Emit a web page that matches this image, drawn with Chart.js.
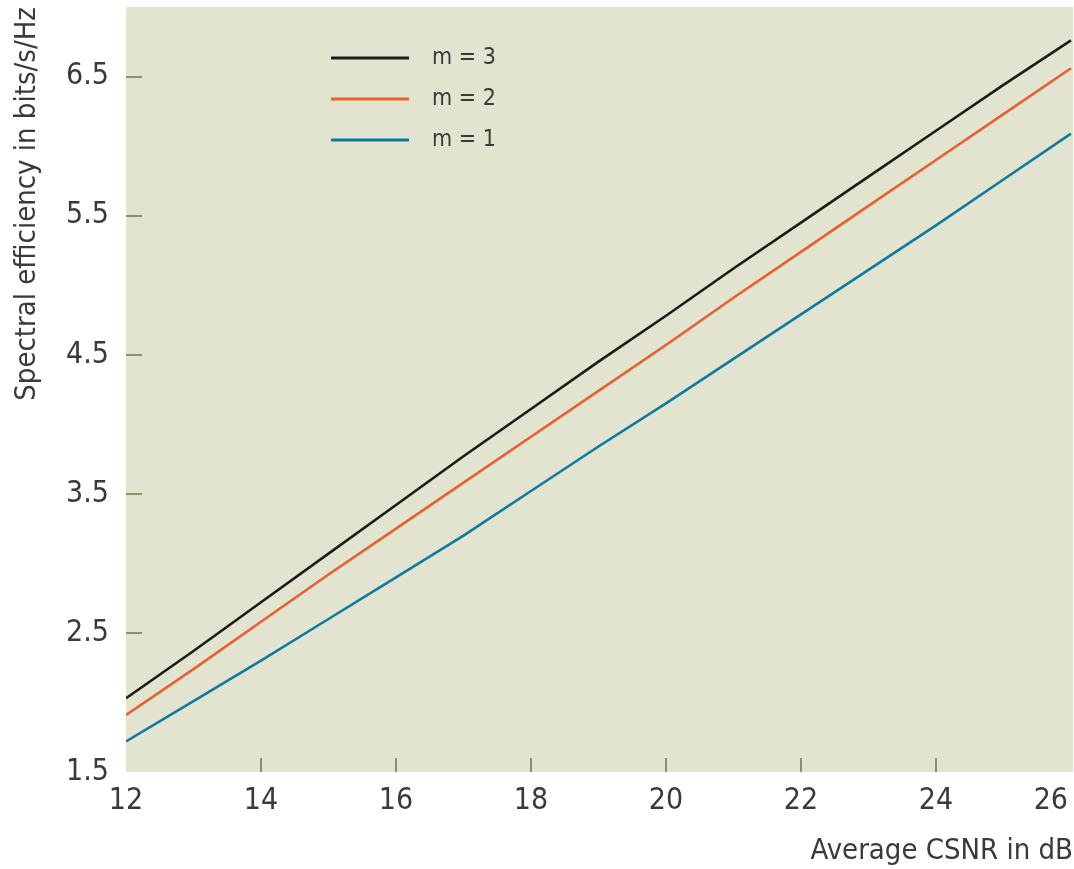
<!DOCTYPE html>
<html>
<head>
<meta charset="utf-8">
<script src="https://cdn.jsdelivr.net/npm/chart.js@4.4.1/dist/chart.umd.min.js"></script>
<style>
  html, body { margin: 0; padding: 0; background: #fff; }
  #wrap { width: 1074px; height: 869px; position: relative; }
</style>
</head>
<body>
<div id="wrap"><canvas id="chart"></canvas></div>
<script>
// average CSNR (dB) and spectral efficiency (bits/s/Hz)
const csnr = [12, 13, 14, 15, 16, 17, 18, 19, 20, 21, 22, 23, 24, 25, 26];
const m3 = [2.03, 2.37, 2.72, 3.07, 3.42, 3.77, 4.11, 4.45, 4.78, 5.12, 5.45, 5.78, 6.11, 6.44, 6.76];
const m2 = [1.91, 2.24, 2.58, 2.92, 3.25, 3.58, 3.91, 4.24, 4.57, 4.91, 5.24, 5.57, 5.90, 6.23, 6.56];
const m1 = [1.72, 2.01, 2.30, 2.60, 2.90, 3.20, 3.52, 3.84, 4.15, 4.47, 4.79, 5.11, 5.43, 5.76, 6.09];

const seriesLabels = ['m = 3', 'm = 2', 'm = 1'];
const seriesColors = ['#1b1b1b', '#e8602c', '#0f7aa1'];

const xTickValues = [12, 14, 16, 18, 20, 22, 24, 26];
const yTickValues = [1.5, 2.5, 3.5, 4.5, 5.5, 6.5];

const plotBg = '#e3e4d0';
const tickMarkColor = '#7c9a62';
const textColor = '#3a3a3a';
const fontFamily = "'Liberation Sans Narrow', 'DejaVu Sans Condensed', 'Noto Sans', sans-serif";

const toPoints = ys => ys.map((y, i) => ({ x: csnr[i], y: y }));

// background, inside tick marks, tick labels and the legend box
const decor = {
  id: 'decor',
  beforeDraw(chart) {
    const { ctx, chartArea: a } = chart;
    ctx.save();
    ctx.fillStyle = plotBg;
    ctx.fillRect(a.left, a.top, a.right - a.left, a.bottom - a.top);
    ctx.restore();
  },
  beforeDatasetsDraw(chart) {
    const { ctx, chartArea: a, scales } = chart;
    ctx.save();
    ctx.strokeStyle = tickMarkColor;
    ctx.lineWidth = 2;
    scales.x.ticks.forEach(t => {
      const px = Math.round(scales.x.getPixelForValue(t.value));
      if (px <= a.left + 2 || px >= a.right - 2) return;
      ctx.beginPath();
      ctx.moveTo(px, a.bottom);
      ctx.lineTo(px, a.bottom - 14);
      ctx.stroke();
    });
    scales.y.ticks.forEach(t => {
      const py = Math.round(scales.y.getPixelForValue(t.value));
      if (py >= a.bottom - 2 || py <= a.top + 2) return;
      ctx.beginPath();
      ctx.moveTo(a.left, py);
      ctx.lineTo(a.left + 16, py);
      ctx.stroke();
    });
    ctx.restore();
  },
  afterDraw(chart) {
    const { ctx, chartArea: a, scales } = chart;
    ctx.save();
    ctx.fillStyle = textColor;
    ctx.font = '30px ' + fontFamily;

    // x tick labels, last one pulled inside the canvas
    ctx.textAlign = 'center';
    ctx.textBaseline = 'middle';
    scales.x.ticks.forEach(t => {
      const label = String(t.value);
      const w = ctx.measureText(label).width;
      let px = scales.x.getPixelForValue(t.value);
      if (px + w / 2 > chart.width - 6) px = chart.width - 6 - w / 2;
      ctx.fillText(label, px, a.bottom + 29);
    });

    // y tick labels, left aligned
    ctx.textAlign = 'left';
    scales.y.ticks.forEach(t => {
      const py = scales.y.getPixelForValue(t.value);
      ctx.fillText(t.value.toFixed(1), 66, py);
    });

    // legend
    ctx.font = '23px ' + fontFamily;
    chart.data.datasets.forEach((ds, i) => {
      const y = 58 + i * 41;
      ctx.strokeStyle = ds.borderColor;
      ctx.lineWidth = 3;
      ctx.beginPath();
      ctx.moveTo(331, y);
      ctx.lineTo(409, y);
      ctx.stroke();
      ctx.fillStyle = textColor;
      ctx.fillText(ds.label, 432, y);
    });
    ctx.restore();
  }
};

const datasets = [m3, m2, m1].map((ys, i) => ({
  label: seriesLabels[i],
  data: toPoints(ys),
  borderColor: seriesColors[i],
  backgroundColor: seriesColors[i],
  borderWidth: 2.6,
  pointRadius: 0,
  tension: 0,
  fill: false
}));

new Chart(document.getElementById('chart'), {
  type: 'line',
  data: { datasets: datasets },
  plugins: [decor],
  options: {
    responsive: true,
    maintainAspectRatio: false,
    animation: false,
    layout: { padding: { top: 7, right: 1, left: 0, bottom: 0 } },
    plugins: {
      legend: { display: false },
      tooltip: { enabled: false }
    },
    scales: {
      x: {
        type: 'linear',
        min: 12,
        max: 26.03,
        grid: { display: false },
        border: { display: false },
        ticks: { display: false },
        afterBuildTicks: s => { s.ticks = xTickValues.map(v => ({ value: v })); },
        afterFit: s => { s.height = 97; s.paddingLeft = 0; s.paddingRight = 0; },
        title: {
          display: true,
          text: 'Average CSNR in dB',
          align: 'end',
          color: textColor,
          font: { family: fontFamily, size: 29, lineHeight: 1.2 },
          padding: { top: 0, bottom: 0 }
        }
      },
      y: {
        type: 'linear',
        min: 1.5,
        max: 7.0,
        grid: { display: false },
        border: { display: false },
        ticks: { display: false },
        afterBuildTicks: s => { s.ticks = yTickValues.map(v => ({ value: v })); },
        afterFit: s => { s.width = 126; s.paddingTop = 0; s.paddingBottom = 0; },
        title: {
          display: true,
          text: 'Spectral efficiency in bits/s/Hz',
          align: 'end',
          color: textColor,
          font: { family: fontFamily, size: 29, lineHeight: 1.2 },
          padding: { top: 10, bottom: 0 }
        }
      }
    }
  }
});
</script>
</body>
</html>
